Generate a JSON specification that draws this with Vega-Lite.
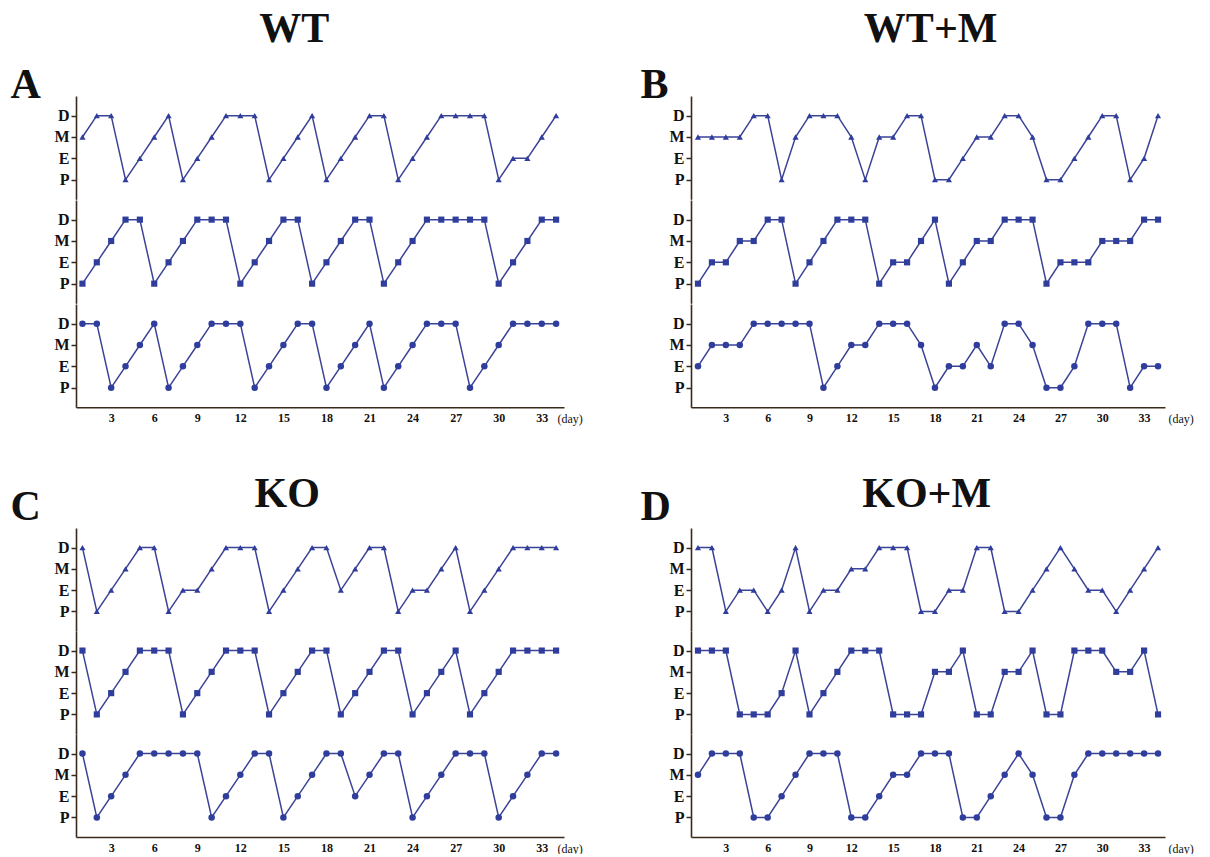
{
  "$schema": "https://vega.github.io/schema/vega-lite/v6.json",
  "padding": {"left": 10, "top": 8, "right": 2, "bottom": 0},
  "background": "white",
  "config": {
    "view": {"stroke": null},
    "font": "Liberation Serif",
    "axis": {"grid": false, "domainColor": "#3a2a1c", "domainWidth": 1.6, "tickColor": "#3a2a1c", "tickWidth": 1.5, "labelColor": "#111111", "labelFont": "Liberation Serif", "labelFontWeight": "bold"},
    "axisY": {"labelFontSize": 16, "tickSize": 5, "labelPadding": 2},
    "axisX": {"labelFontSize": 12, "ticks": false, "labelPadding": 5},
    "title": {"font": "Liberation Serif", "fontSize": 42, "fontWeight": "bold", "color": "#111111", "anchor": "middle"},
    "line": {"color": "#3b4396", "strokeWidth": 1.5}
  },
  "datasets": {
    "A1": [{"day":1,"stage":"M"},{"day":2,"stage":"D"},{"day":3,"stage":"D"},{"day":4,"stage":"P"},{"day":5,"stage":"E"},{"day":6,"stage":"M"},{"day":7,"stage":"D"},{"day":8,"stage":"P"},{"day":9,"stage":"E"},{"day":10,"stage":"M"},{"day":11,"stage":"D"},{"day":12,"stage":"D"},{"day":13,"stage":"D"},{"day":14,"stage":"P"},{"day":15,"stage":"E"},{"day":16,"stage":"M"},{"day":17,"stage":"D"},{"day":18,"stage":"P"},{"day":19,"stage":"E"},{"day":20,"stage":"M"},{"day":21,"stage":"D"},{"day":22,"stage":"D"},{"day":23,"stage":"P"},{"day":24,"stage":"E"},{"day":25,"stage":"M"},{"day":26,"stage":"D"},{"day":27,"stage":"D"},{"day":28,"stage":"D"},{"day":29,"stage":"D"},{"day":30,"stage":"P"},{"day":31,"stage":"E"},{"day":32,"stage":"E"},{"day":33,"stage":"M"},{"day":34,"stage":"D"}],
    "A2": [{"day":1,"stage":"P"},{"day":2,"stage":"E"},{"day":3,"stage":"M"},{"day":4,"stage":"D"},{"day":5,"stage":"D"},{"day":6,"stage":"P"},{"day":7,"stage":"E"},{"day":8,"stage":"M"},{"day":9,"stage":"D"},{"day":10,"stage":"D"},{"day":11,"stage":"D"},{"day":12,"stage":"P"},{"day":13,"stage":"E"},{"day":14,"stage":"M"},{"day":15,"stage":"D"},{"day":16,"stage":"D"},{"day":17,"stage":"P"},{"day":18,"stage":"E"},{"day":19,"stage":"M"},{"day":20,"stage":"D"},{"day":21,"stage":"D"},{"day":22,"stage":"P"},{"day":23,"stage":"E"},{"day":24,"stage":"M"},{"day":25,"stage":"D"},{"day":26,"stage":"D"},{"day":27,"stage":"D"},{"day":28,"stage":"D"},{"day":29,"stage":"D"},{"day":30,"stage":"P"},{"day":31,"stage":"E"},{"day":32,"stage":"M"},{"day":33,"stage":"D"},{"day":34,"stage":"D"}],
    "A3": [{"day":1,"stage":"D"},{"day":2,"stage":"D"},{"day":3,"stage":"P"},{"day":4,"stage":"E"},{"day":5,"stage":"M"},{"day":6,"stage":"D"},{"day":7,"stage":"P"},{"day":8,"stage":"E"},{"day":9,"stage":"M"},{"day":10,"stage":"D"},{"day":11,"stage":"D"},{"day":12,"stage":"D"},{"day":13,"stage":"P"},{"day":14,"stage":"E"},{"day":15,"stage":"M"},{"day":16,"stage":"D"},{"day":17,"stage":"D"},{"day":18,"stage":"P"},{"day":19,"stage":"E"},{"day":20,"stage":"M"},{"day":21,"stage":"D"},{"day":22,"stage":"P"},{"day":23,"stage":"E"},{"day":24,"stage":"M"},{"day":25,"stage":"D"},{"day":26,"stage":"D"},{"day":27,"stage":"D"},{"day":28,"stage":"P"},{"day":29,"stage":"E"},{"day":30,"stage":"M"},{"day":31,"stage":"D"},{"day":32,"stage":"D"},{"day":33,"stage":"D"},{"day":34,"stage":"D"}],
    "B1": [{"day":1,"stage":"M"},{"day":2,"stage":"M"},{"day":3,"stage":"M"},{"day":4,"stage":"M"},{"day":5,"stage":"D"},{"day":6,"stage":"D"},{"day":7,"stage":"P"},{"day":8,"stage":"M"},{"day":9,"stage":"D"},{"day":10,"stage":"D"},{"day":11,"stage":"D"},{"day":12,"stage":"M"},{"day":13,"stage":"P"},{"day":14,"stage":"M"},{"day":15,"stage":"M"},{"day":16,"stage":"D"},{"day":17,"stage":"D"},{"day":18,"stage":"P"},{"day":19,"stage":"P"},{"day":20,"stage":"E"},{"day":21,"stage":"M"},{"day":22,"stage":"M"},{"day":23,"stage":"D"},{"day":24,"stage":"D"},{"day":25,"stage":"M"},{"day":26,"stage":"P"},{"day":27,"stage":"P"},{"day":28,"stage":"E"},{"day":29,"stage":"M"},{"day":30,"stage":"D"},{"day":31,"stage":"D"},{"day":32,"stage":"P"},{"day":33,"stage":"E"},{"day":34,"stage":"D"}],
    "B2": [{"day":1,"stage":"P"},{"day":2,"stage":"E"},{"day":3,"stage":"E"},{"day":4,"stage":"M"},{"day":5,"stage":"M"},{"day":6,"stage":"D"},{"day":7,"stage":"D"},{"day":8,"stage":"P"},{"day":9,"stage":"E"},{"day":10,"stage":"M"},{"day":11,"stage":"D"},{"day":12,"stage":"D"},{"day":13,"stage":"D"},{"day":14,"stage":"P"},{"day":15,"stage":"E"},{"day":16,"stage":"E"},{"day":17,"stage":"M"},{"day":18,"stage":"D"},{"day":19,"stage":"P"},{"day":20,"stage":"E"},{"day":21,"stage":"M"},{"day":22,"stage":"M"},{"day":23,"stage":"D"},{"day":24,"stage":"D"},{"day":25,"stage":"D"},{"day":26,"stage":"P"},{"day":27,"stage":"E"},{"day":28,"stage":"E"},{"day":29,"stage":"E"},{"day":30,"stage":"M"},{"day":31,"stage":"M"},{"day":32,"stage":"M"},{"day":33,"stage":"D"},{"day":34,"stage":"D"}],
    "B3": [{"day":1,"stage":"E"},{"day":2,"stage":"M"},{"day":3,"stage":"M"},{"day":4,"stage":"M"},{"day":5,"stage":"D"},{"day":6,"stage":"D"},{"day":7,"stage":"D"},{"day":8,"stage":"D"},{"day":9,"stage":"D"},{"day":10,"stage":"P"},{"day":11,"stage":"E"},{"day":12,"stage":"M"},{"day":13,"stage":"M"},{"day":14,"stage":"D"},{"day":15,"stage":"D"},{"day":16,"stage":"D"},{"day":17,"stage":"M"},{"day":18,"stage":"P"},{"day":19,"stage":"E"},{"day":20,"stage":"E"},{"day":21,"stage":"M"},{"day":22,"stage":"E"},{"day":23,"stage":"D"},{"day":24,"stage":"D"},{"day":25,"stage":"M"},{"day":26,"stage":"P"},{"day":27,"stage":"P"},{"day":28,"stage":"E"},{"day":29,"stage":"D"},{"day":30,"stage":"D"},{"day":31,"stage":"D"},{"day":32,"stage":"P"},{"day":33,"stage":"E"},{"day":34,"stage":"E"}],
    "C1": [{"day":1,"stage":"D"},{"day":2,"stage":"P"},{"day":3,"stage":"E"},{"day":4,"stage":"M"},{"day":5,"stage":"D"},{"day":6,"stage":"D"},{"day":7,"stage":"P"},{"day":8,"stage":"E"},{"day":9,"stage":"E"},{"day":10,"stage":"M"},{"day":11,"stage":"D"},{"day":12,"stage":"D"},{"day":13,"stage":"D"},{"day":14,"stage":"P"},{"day":15,"stage":"E"},{"day":16,"stage":"M"},{"day":17,"stage":"D"},{"day":18,"stage":"D"},{"day":19,"stage":"E"},{"day":20,"stage":"M"},{"day":21,"stage":"D"},{"day":22,"stage":"D"},{"day":23,"stage":"P"},{"day":24,"stage":"E"},{"day":25,"stage":"E"},{"day":26,"stage":"M"},{"day":27,"stage":"D"},{"day":28,"stage":"P"},{"day":29,"stage":"E"},{"day":30,"stage":"M"},{"day":31,"stage":"D"},{"day":32,"stage":"D"},{"day":33,"stage":"D"},{"day":34,"stage":"D"}],
    "C2": [{"day":1,"stage":"D"},{"day":2,"stage":"P"},{"day":3,"stage":"E"},{"day":4,"stage":"M"},{"day":5,"stage":"D"},{"day":6,"stage":"D"},{"day":7,"stage":"D"},{"day":8,"stage":"P"},{"day":9,"stage":"E"},{"day":10,"stage":"M"},{"day":11,"stage":"D"},{"day":12,"stage":"D"},{"day":13,"stage":"D"},{"day":14,"stage":"P"},{"day":15,"stage":"E"},{"day":16,"stage":"M"},{"day":17,"stage":"D"},{"day":18,"stage":"D"},{"day":19,"stage":"P"},{"day":20,"stage":"E"},{"day":21,"stage":"M"},{"day":22,"stage":"D"},{"day":23,"stage":"D"},{"day":24,"stage":"P"},{"day":25,"stage":"E"},{"day":26,"stage":"M"},{"day":27,"stage":"D"},{"day":28,"stage":"P"},{"day":29,"stage":"E"},{"day":30,"stage":"M"},{"day":31,"stage":"D"},{"day":32,"stage":"D"},{"day":33,"stage":"D"},{"day":34,"stage":"D"}],
    "C3": [{"day":1,"stage":"D"},{"day":2,"stage":"P"},{"day":3,"stage":"E"},{"day":4,"stage":"M"},{"day":5,"stage":"D"},{"day":6,"stage":"D"},{"day":7,"stage":"D"},{"day":8,"stage":"D"},{"day":9,"stage":"D"},{"day":10,"stage":"P"},{"day":11,"stage":"E"},{"day":12,"stage":"M"},{"day":13,"stage":"D"},{"day":14,"stage":"D"},{"day":15,"stage":"P"},{"day":16,"stage":"E"},{"day":17,"stage":"M"},{"day":18,"stage":"D"},{"day":19,"stage":"D"},{"day":20,"stage":"E"},{"day":21,"stage":"M"},{"day":22,"stage":"D"},{"day":23,"stage":"D"},{"day":24,"stage":"P"},{"day":25,"stage":"E"},{"day":26,"stage":"M"},{"day":27,"stage":"D"},{"day":28,"stage":"D"},{"day":29,"stage":"D"},{"day":30,"stage":"P"},{"day":31,"stage":"E"},{"day":32,"stage":"M"},{"day":33,"stage":"D"},{"day":34,"stage":"D"}],
    "D1": [{"day":1,"stage":"D"},{"day":2,"stage":"D"},{"day":3,"stage":"P"},{"day":4,"stage":"E"},{"day":5,"stage":"E"},{"day":6,"stage":"P"},{"day":7,"stage":"E"},{"day":8,"stage":"D"},{"day":9,"stage":"P"},{"day":10,"stage":"E"},{"day":11,"stage":"E"},{"day":12,"stage":"M"},{"day":13,"stage":"M"},{"day":14,"stage":"D"},{"day":15,"stage":"D"},{"day":16,"stage":"D"},{"day":17,"stage":"P"},{"day":18,"stage":"P"},{"day":19,"stage":"E"},{"day":20,"stage":"E"},{"day":21,"stage":"D"},{"day":22,"stage":"D"},{"day":23,"stage":"P"},{"day":24,"stage":"P"},{"day":25,"stage":"E"},{"day":26,"stage":"M"},{"day":27,"stage":"D"},{"day":28,"stage":"M"},{"day":29,"stage":"E"},{"day":30,"stage":"E"},{"day":31,"stage":"P"},{"day":32,"stage":"E"},{"day":33,"stage":"M"},{"day":34,"stage":"D"}],
    "D2": [{"day":1,"stage":"D"},{"day":2,"stage":"D"},{"day":3,"stage":"D"},{"day":4,"stage":"P"},{"day":5,"stage":"P"},{"day":6,"stage":"P"},{"day":7,"stage":"E"},{"day":8,"stage":"D"},{"day":9,"stage":"P"},{"day":10,"stage":"E"},{"day":11,"stage":"M"},{"day":12,"stage":"D"},{"day":13,"stage":"D"},{"day":14,"stage":"D"},{"day":15,"stage":"P"},{"day":16,"stage":"P"},{"day":17,"stage":"P"},{"day":18,"stage":"M"},{"day":19,"stage":"M"},{"day":20,"stage":"D"},{"day":21,"stage":"P"},{"day":22,"stage":"P"},{"day":23,"stage":"M"},{"day":24,"stage":"M"},{"day":25,"stage":"D"},{"day":26,"stage":"P"},{"day":27,"stage":"P"},{"day":28,"stage":"D"},{"day":29,"stage":"D"},{"day":30,"stage":"D"},{"day":31,"stage":"M"},{"day":32,"stage":"M"},{"day":33,"stage":"D"},{"day":34,"stage":"P"}],
    "D3": [{"day":1,"stage":"M"},{"day":2,"stage":"D"},{"day":3,"stage":"D"},{"day":4,"stage":"D"},{"day":5,"stage":"P"},{"day":6,"stage":"P"},{"day":7,"stage":"E"},{"day":8,"stage":"M"},{"day":9,"stage":"D"},{"day":10,"stage":"D"},{"day":11,"stage":"D"},{"day":12,"stage":"P"},{"day":13,"stage":"P"},{"day":14,"stage":"E"},{"day":15,"stage":"M"},{"day":16,"stage":"M"},{"day":17,"stage":"D"},{"day":18,"stage":"D"},{"day":19,"stage":"D"},{"day":20,"stage":"P"},{"day":21,"stage":"P"},{"day":22,"stage":"E"},{"day":23,"stage":"M"},{"day":24,"stage":"D"},{"day":25,"stage":"M"},{"day":26,"stage":"P"},{"day":27,"stage":"P"},{"day":28,"stage":"M"},{"day":29,"stage":"D"},{"day":30,"stage":"D"},{"day":31,"stage":"D"},{"day":32,"stage":"D"},{"day":33,"stage":"D"},{"day":34,"stage":"D"}]
  },
  "vconcat": [
    {
      "hconcat": [
        {
          "title": {"text": "WT", "dx": -2, "offset": 12},
          "vconcat": [
            {"width": 488, "height": 103.3, "data": {"name": "A1"},
             "mark": {"type": "line", "point": {"shape": "triangle-up", "filled": true, "size": 38, "color": "#2f3d9c", "opacity": 1}},
             "encoding": {
               "x": {"field": "day", "type": "quantitative", "scale": {"domain": [0.55, 34.55], "nice": false, "zero": false}, "axis": null},
               "y": {"field": "stage", "type": "ordinal", "scale": {"type": "point", "domain": ["D","M","E","P"], "padding": 0.92}, "axis": {"title": "A", "titleAngle": 0, "titleFont": "Liberation Serif", "titleFontSize": 42, "titleFontWeight": "bold", "titleColor": "#111111", "titleAlign": "left", "titleBaseline": "alphabetic", "titleX": -66, "titleY": 1}},
               "order": {"field": "day", "type": "quantitative"}
             }},
            {"width": 488, "height": 103.3, "data": {"name": "A2"},
             "mark": {"type": "line", "point": {"shape": "square", "filled": true, "size": 38, "color": "#2f3d9c", "opacity": 1}},
             "encoding": {
               "x": {"field": "day", "type": "quantitative", "scale": {"domain": [0.55, 34.55], "nice": false, "zero": false}, "axis": null},
               "y": {"field": "stage", "type": "ordinal", "scale": {"type": "point", "domain": ["D","M","E","P"], "padding": 0.92}, "axis": {"title": null}},
               "order": {"field": "day", "type": "quantitative"}
             }},
            {"width": 488, "height": 103.3, "data": {"name": "A3"},
             "mark": {"type": "line", "point": {"shape": "circle", "filled": true, "size": 42, "color": "#2f3d9c", "opacity": 1}},
             "encoding": {
               "x": {"field": "day", "type": "quantitative", "scale": {"domain": [0.55, 34.55], "nice": false, "zero": false}, "axis": {"values": [3,6,9,12,15,18,21,24,27,30,33], "title": "(day)", "titleX": 481, "titleY": 11, "titleAlign": "left", "titleBaseline": "middle", "titleFont": "Liberation Serif", "titleFontSize": 12, "titleFontWeight": "normal", "titleColor": "#111111"}},
               "y": {"field": "stage", "type": "ordinal", "scale": {"type": "point", "domain": ["D","M","E","P"], "padding": 0.92}, "axis": {"title": null}},
               "order": {"field": "day", "type": "quantitative"}
             }}
          ],
          "spacing": 0,
          "bounds": "flush"
        },
        {
          "title": {"text": "WT+M", "dx": 14, "offset": 12},
          "vconcat": [
            {"width": 474, "height": 103.3, "data": {"name": "B1"},
             "mark": {"type": "line", "point": {"shape": "triangle-up", "filled": true, "size": 38, "color": "#2f3d9c", "opacity": 1}},
             "encoding": {
               "x": {"field": "day", "type": "quantitative", "scale": {"domain": [0.5, 34.5], "nice": false, "zero": false}, "axis": null},
               "y": {"field": "stage", "type": "ordinal", "scale": {"type": "point", "domain": ["D","M","E","P"], "padding": 0.92}, "axis": {"title": "B", "titleAngle": 0, "titleFont": "Liberation Serif", "titleFontSize": 42, "titleFontWeight": "bold", "titleColor": "#111111", "titleAlign": "left", "titleBaseline": "alphabetic", "titleX": -51, "titleY": 1}},
               "order": {"field": "day", "type": "quantitative"}
             }},
            {"width": 474, "height": 103.3, "data": {"name": "B2"},
             "mark": {"type": "line", "point": {"shape": "square", "filled": true, "size": 38, "color": "#2f3d9c", "opacity": 1}},
             "encoding": {
               "x": {"field": "day", "type": "quantitative", "scale": {"domain": [0.5, 34.5], "nice": false, "zero": false}, "axis": null},
               "y": {"field": "stage", "type": "ordinal", "scale": {"type": "point", "domain": ["D","M","E","P"], "padding": 0.92}, "axis": {"title": null}},
               "order": {"field": "day", "type": "quantitative"}
             }},
            {"width": 474, "height": 103.3, "data": {"name": "B3"},
             "mark": {"type": "line", "point": {"shape": "circle", "filled": true, "size": 42, "color": "#2f3d9c", "opacity": 1}},
             "encoding": {
               "x": {"field": "day", "type": "quantitative", "scale": {"domain": [0.5, 34.5], "nice": false, "zero": false}, "axis": {"values": [3,6,9,12,15,18,21,24,27,30,33], "title": "(day)", "titleX": 477, "titleY": 11, "titleAlign": "left", "titleBaseline": "middle", "titleFont": "Liberation Serif", "titleFontSize": 12, "titleFontWeight": "normal", "titleColor": "#111111"}},
               "y": {"field": "stage", "type": "ordinal", "scale": {"type": "point", "domain": ["D","M","E","P"], "padding": 0.92}, "axis": {"title": null}},
               "order": {"field": "day", "type": "quantitative"}
             }}
          ],
          "spacing": 0,
          "bounds": "flush"
        }
      ],
      "spacing": 57
    },
    {
      "hconcat": [
        {
          "title": {"text": "KO", "dx": -9, "offset": -31},
          "vconcat": [
            {"width": 488, "height": 103, "data": {"name": "C1"},
             "mark": {"type": "line", "point": {"shape": "triangle-up", "filled": true, "size": 38, "color": "#2f3d9c", "opacity": 1}},
             "encoding": {
               "x": {"field": "day", "type": "quantitative", "scale": {"domain": [0.55, 34.55], "nice": false, "zero": false}, "axis": null},
               "y": {"field": "stage", "type": "ordinal", "scale": {"type": "point", "domain": ["D","M","E","P"], "padding": 0.92}, "axis": {"title": "C", "titleAngle": 0, "titleFont": "Liberation Serif", "titleFontSize": 42, "titleFontWeight": "bold", "titleColor": "#111111", "titleAlign": "left", "titleBaseline": "alphabetic", "titleX": -66, "titleY": -9}},
               "order": {"field": "day", "type": "quantitative"}
             }},
            {"width": 488, "height": 103, "data": {"name": "C2"},
             "mark": {"type": "line", "point": {"shape": "square", "filled": true, "size": 38, "color": "#2f3d9c", "opacity": 1}},
             "encoding": {
               "x": {"field": "day", "type": "quantitative", "scale": {"domain": [0.55, 34.55], "nice": false, "zero": false}, "axis": null},
               "y": {"field": "stage", "type": "ordinal", "scale": {"type": "point", "domain": ["D","M","E","P"], "padding": 0.92}, "axis": {"title": null}},
               "order": {"field": "day", "type": "quantitative"}
             }},
            {"width": 488, "height": 103, "data": {"name": "C3"},
             "mark": {"type": "line", "point": {"shape": "circle", "filled": true, "size": 42, "color": "#2f3d9c", "opacity": 1}},
             "encoding": {
               "x": {"field": "day", "type": "quantitative", "scale": {"domain": [0.55, 34.55], "nice": false, "zero": false}, "axis": {"values": [3,6,9,12,15,18,21,24,27,30,33], "title": "(day)", "titleX": 481, "titleY": 11, "titleAlign": "left", "titleBaseline": "middle", "titleFont": "Liberation Serif", "titleFontSize": 12, "titleFontWeight": "normal", "titleColor": "#111111"}},
               "y": {"field": "stage", "type": "ordinal", "scale": {"type": "point", "domain": ["D","M","E","P"], "padding": 0.92}, "axis": {"title": null}},
               "order": {"field": "day", "type": "quantitative"}
             }}
          ],
          "spacing": 0,
          "bounds": "flush"
        },
        {
          "title": {"text": "KO+M", "dx": 10, "offset": -31},
          "vconcat": [
            {"width": 474, "height": 103, "data": {"name": "D1"},
             "mark": {"type": "line", "point": {"shape": "triangle-up", "filled": true, "size": 38, "color": "#2f3d9c", "opacity": 1}},
             "encoding": {
               "x": {"field": "day", "type": "quantitative", "scale": {"domain": [0.5, 34.5], "nice": false, "zero": false}, "axis": null},
               "y": {"field": "stage", "type": "ordinal", "scale": {"type": "point", "domain": ["D","M","E","P"], "padding": 0.92}, "axis": {"title": "D", "titleAngle": 0, "titleFont": "Liberation Serif", "titleFontSize": 42, "titleFontWeight": "bold", "titleColor": "#111111", "titleAlign": "left", "titleBaseline": "alphabetic", "titleX": -51, "titleY": -9}},
               "order": {"field": "day", "type": "quantitative"}
             }},
            {"width": 474, "height": 103, "data": {"name": "D2"},
             "mark": {"type": "line", "point": {"shape": "square", "filled": true, "size": 38, "color": "#2f3d9c", "opacity": 1}},
             "encoding": {
               "x": {"field": "day", "type": "quantitative", "scale": {"domain": [0.5, 34.5], "nice": false, "zero": false}, "axis": null},
               "y": {"field": "stage", "type": "ordinal", "scale": {"type": "point", "domain": ["D","M","E","P"], "padding": 0.92}, "axis": {"title": null}},
               "order": {"field": "day", "type": "quantitative"}
             }},
            {"width": 474, "height": 103, "data": {"name": "D3"},
             "mark": {"type": "line", "point": {"shape": "circle", "filled": true, "size": 42, "color": "#2f3d9c", "opacity": 1}},
             "encoding": {
               "x": {"field": "day", "type": "quantitative", "scale": {"domain": [0.5, 34.5], "nice": false, "zero": false}, "axis": {"values": [3,6,9,12,15,18,21,24,27,30,33], "title": "(day)", "titleX": 477, "titleY": 11, "titleAlign": "left", "titleBaseline": "middle", "titleFont": "Liberation Serif", "titleFontSize": 12, "titleFontWeight": "normal", "titleColor": "#111111"}},
               "y": {"field": "stage", "type": "ordinal", "scale": {"type": "point", "domain": ["D","M","E","P"], "padding": 0.92}, "axis": {"title": null}},
               "order": {"field": "day", "type": "quantitative"}
             }}
          ],
          "spacing": 0,
          "bounds": "flush"
        }
      ],
      "spacing": 57
    }
  ],
  "spacing": 48
}
